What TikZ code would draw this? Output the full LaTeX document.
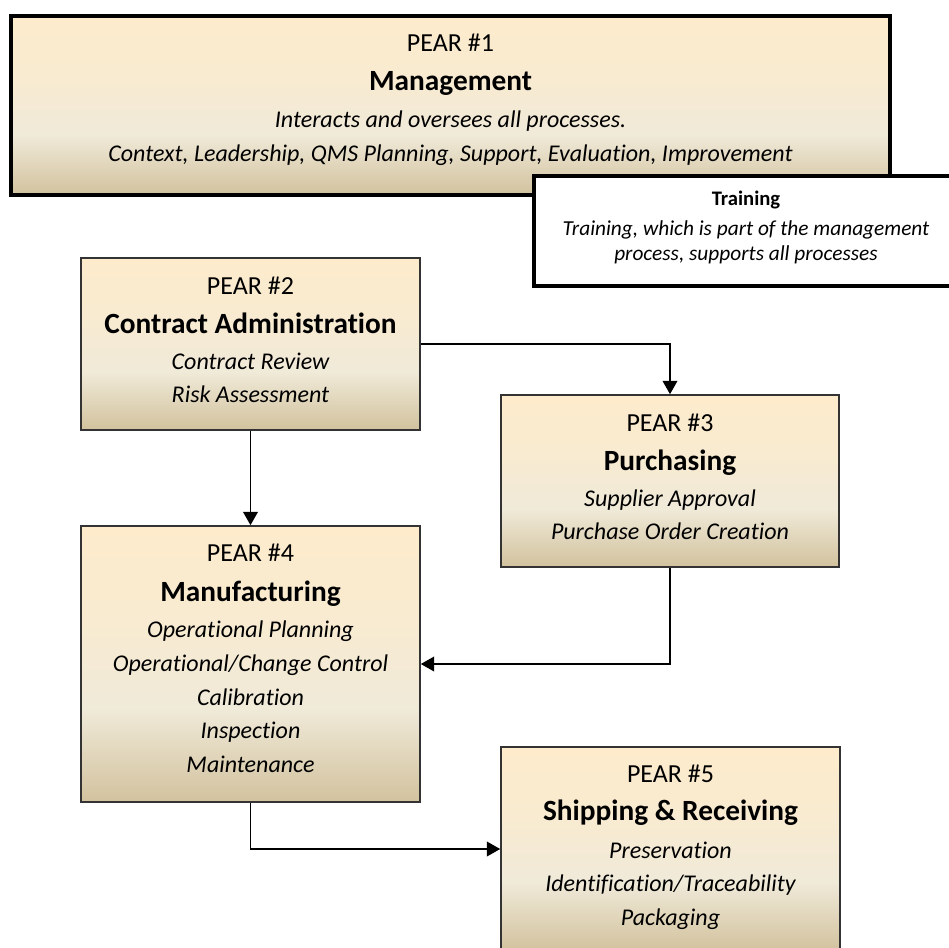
\documentclass[tikz,border=0pt]{standalone}
\usepackage{fontspec}
\setmainfont{Carlito}[Ligatures=NoCommon]
\usetikzlibrary{arrows.meta,calc}
\definecolor{ptop}{RGB}{253,235,204}
\definecolor{pmid}{RGB}{240,234,217}
\definecolor{pbot}{RGB}{210,194,158}
\pgfdeclareverticalshading{parch}{100bp}{color(0bp)=(pbot); color(25bp)=(pbot); color(42bp)=(pmid); color(60bp)=(ptop!70!pmid); color(75bp)=(ptop); color(100bp)=(ptop)}
\begin{document}
\begin{tikzpicture}[x=0.75pt,y=-0.75pt,
  pearbox/.style={draw=black!80, line width=1.2pt, shading=parch, rectangle, inner sep=0pt},
  bigbox/.style={draw=black, line width=3pt, rectangle, inner sep=0pt},
  lblA/.style={anchor=base, font=\fontsize{19.5}{23}\selectfont, inner sep=0pt},
  lblB/.style={anchor=base, font=\fontsize{22}{26}\selectfont\bfseries, inner sep=0pt},
  lblC/.style={anchor=base, font=\fontsize{18}{21}\selectfont\itshape, inner sep=0pt},
  lblD/.style={anchor=base, font=\fontsize{16}{19}\selectfont\itshape, inner sep=0pt},
  lblT/.style={anchor=base, font=\fontsize{15.5}{19}\selectfont\bfseries, inner sep=0pt},
  conn/.style={draw=black, line width=1.2pt, -{Triangle[width=11pt,length=10pt]}}]
\useasboundingbox (0,0) rectangle (949,947);

% PEAR #1
\node[bigbox, shading=parch, minimum width=659.25pt, minimum height=134.25pt] (p1) at (450.5,105.5) {};
\node[lblA] (p1a) at ($(p1.north)+(0,37)$) {PEAR \#1};
\node[lblB] (p1b) at ($(p1.north)+(0,76)$) {Management};
\node[lblC] (p1c) at ($(p1.north)+(0,113)$) {Interacts and oversees all processes.};
\node[lblC] (p1d) at ($(p1.north)+(0,147)$) {Context, Leadership, QMS Planning, Support, Evaluation, Improvement};

% Training
\node[bigbox, fill=white, minimum width=322.5pt, minimum height=82.5pt] (tr) at (749,231) {};
\node[lblT] (tra) at ($(tr.north)+(-3,31)$) {Training};
\node[lblD] (trb) at ($(tr.north)+(-3,61)$) {Training, which is part of the management};
\node[lblD] (trc) at ($(tr.north)+(-3,86)$) {process, supports all processes};

% PEAR #2
\node[pearbox, minimum width=254.25pt, minimum height=129pt] (p2) at (250.5,344) {};
\node[lblA] (p2a) at ($(p2.north)+(0,37)$) {PEAR \#2};
\node[lblB] (p2b) at ($(p2.north)+(0,76)$) {Contract Administration};
\node[lblC] (p2c) at ($(p2.north)+(0,112)$) {Contract Review};
\node[lblC] (p2d) at ($(p2.north)+(0,145)$) {Risk Assessment};

% PEAR #3
\node[pearbox, minimum width=253.5pt, minimum height=129pt] (p3) at (670,481) {};
\node[lblA] (p3a) at ($(p3.north)+(0,37)$) {PEAR \#3};
\node[lblB] (p3b) at ($(p3.north)+(0,76)$) {Purchasing};
\node[lblC] (p3c) at ($(p3.north)+(0,112)$) {Supplier Approval};
\node[lblC] (p3d) at ($(p3.north)+(0,145)$) {Purchase Order Creation};

% PEAR #4
\node[pearbox, minimum width=254.25pt, minimum height=207pt] (p4) at (250.5,664) {};
\node[lblA] (p4a) at ($(p4.north)+(0,36)$) {PEAR \#4};
\node[lblB] (p4b) at ($(p4.north)+(0,76)$) {Manufacturing};
\node[lblC] (p4c) at ($(p4.north)+(0,112)$) {Operational Planning};
\node[lblC] (p4d) at ($(p4.north)+(0,146)$) {Operational/Change Control};
\node[lblC] (p4e) at ($(p4.north)+(0,180)$) {Calibration};
\node[lblC] (p4f) at ($(p4.north)+(0,213)$) {Inspection};
\node[lblC] (p4g) at ($(p4.north)+(0,247)$) {Maintenance};

% PEAR #5
\node[pearbox, minimum width=254.25pt, minimum height=153pt] (p5) at (670.5,849) {};
\node[lblA] (p5a) at ($(p5.north)+(0,36)$) {PEAR \#5};
\node[lblB] (p5b) at ($(p5.north)+(0,74)$) {Shipping \& Receiving};
\node[lblC] (p5c) at ($(p5.north)+(0,112)$) {Preservation};
\node[lblC] (p5d) at ($(p5.north)+(0,145)$) {Identification/Traceability};
\node[lblC] (p5e) at ($(p5.north)+(0,179)$) {Packaging};

% connectors
\draw[conn] (p2.east) -| (p3.north);
\draw[conn] (p2.south) -- (p4.north);
\draw[conn] (p3.south) |- (p4.east);
\draw[conn] (p4.south) |- (p5.west);
\end{tikzpicture}
\end{document}
